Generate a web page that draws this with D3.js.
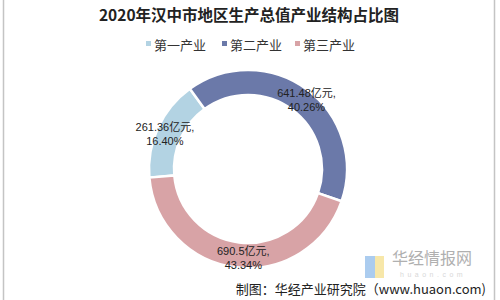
<!DOCTYPE html>
<html>
<head>
<meta charset="utf-8">
<script src="https://cdn.jsdelivr.net/npm/d3@7"></script>
<style>
  body { margin: 0; background: #fff; }
  svg { display: block; font-family: "Noto Sans CJK SC", sans-serif; }
</style>
</head>
<body>
<svg id="chart" width="500" height="300"></svg>
<script>
var categories = ["第一产业", "第二产业", "第三产业"];
var values = [261.36, 641.48, 690.5];
var shares = ["16.40%", "40.26%", "43.34%"];
var colors = ["#b3d3e3", "#6b79a9", "#d8a3a6"];

var svg = d3.select("#chart");
var cx = 248, cy = 169;
var outerR = 99, innerR = 74;
// small nudges of label angle (deg) so they sit like the original
var labelShift = [-2, 4, -4];

// frame lines
svg.append("line").attr("x1", 3.5).attr("x2", 3.5).attr("y1", 0).attr("y2", 300)
  .style("stroke", "#c4c4c4").style("stroke-width", "1.5px");
svg.append("line").attr("x1", 494.5).attr("x2", 494.5).attr("y1", 0).attr("y2", 300)
  .style("stroke", "#c4c4c4").style("stroke-width", "1.5px");

// title
svg.append("text")
  .attr("x", 249).attr("y", 21)
  .attr("text-anchor", "middle")
  .style("font-size", "15.5px").style("font-weight", "bold").style("fill", "#222")
  .text("2020年汉中市地区生产总值产业结构占比图");

// legend
var legendX = [146, 222, 295];
var legend = svg.selectAll(".legend").data(categories).enter().append("g")
  .attr("transform", function(d, i){ return "translate(" + legendX[i] + ",45)"; });
legend.append("rect").attr("x", 0).attr("y", -4).attr("width", 5).attr("height", 5)
  .style("fill", function(d, i){ return colors[i]; });
legend.append("text").attr("x", 8).attr("y", 0).attr("dy", "0.4em")
  .style("font-size", "13px").style("fill", "#333")
  .text(function(d){ return d; });

// donut
var pie = d3.pie().sort(null)
  .startAngle(265 * Math.PI / 180)
  .endAngle((265 + 360) * Math.PI / 180);
var arcs = pie(values);
var arc = d3.arc().innerRadius(innerR).outerRadius(outerR);
var labelArc = d3.arc().innerRadius(90).outerRadius(90);

var g = svg.append("g").attr("transform", "translate(" + cx + "," + cy + ")");
g.selectAll("path").data(arcs).enter().append("path")
  .attr("d", arc)
  .style("fill", function(d, i){ return colors[i]; })
  .style("stroke", "#fff").style("stroke-width", "2.5px");

function labelPos(d, i){
  var s = labelShift[i] * Math.PI / 180;
  return labelArc.centroid({startAngle: d.startAngle + s, endAngle: d.endAngle + s});
}

var labels = g.selectAll(".lbl").data(arcs).enter().append("text")
  .attr("transform", function(d, i){ return "translate(" + labelPos(d, i) + ")"; })
  .attr("text-anchor", "middle")
  .style("font-family", "Arial, 'Liberation Sans', 'Noto Sans CJK SC', sans-serif")
  .style("font-size", "11px").style("fill", "#222");
labels.append("tspan").attr("x", 0).attr("y", -4)
  .text(function(d){ return d.data + "亿元,"; });
labels.append("tspan").attr("x", 0).attr("y", 10)
  .text(function(d, i){ return shares[i]; });

// watermark
svg.append("rect").attr("x", 365).attr("y", 256).attr("width", 10).attr("height", 22)
  .style("fill", "#9cc3ec").style("opacity", 0.85);
svg.append("rect").attr("x", 375).attr("y", 256).attr("width", 9).attr("height", 22)
  .style("fill", "#f6e39a").style("opacity", 0.85);
svg.append("text").attr("x", 392).attr("y", 264)
  .style("font-size", "16px").style("fill", "#b0b0b0")
  .text("华经情报网");
svg.append("text").attr("x", 400).attr("y", 277)
  .style("font-family", "Arial, 'Liberation Sans', sans-serif")
  .style("font-size", "7px").style("fill", "#d8d8d8").style("letter-spacing", "3.5px")
  .text("huaon.com");

// source
svg.append("text")
  .attr("x", 486).attr("y", 294)
  .attr("text-anchor", "end")
  .style("font-size", "13px").style("fill", "#222")
  .text("制图：华经产业研究院（www.huaon.com)");
</script>
</body>
</html>
